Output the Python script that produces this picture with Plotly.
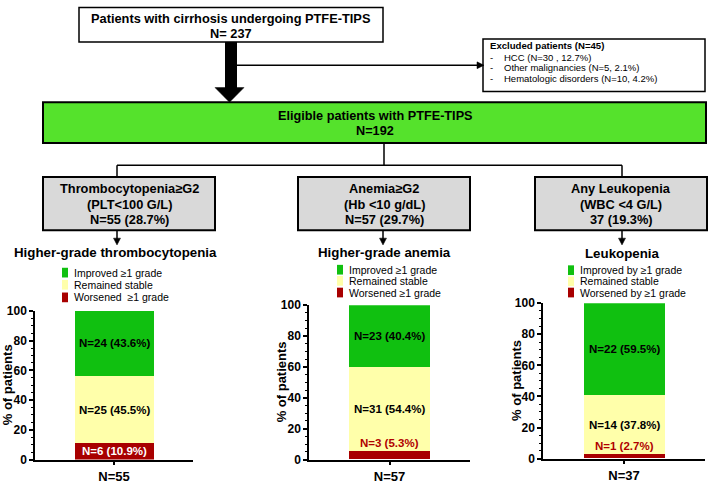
import plotly.graph_objects as go

# ---------------- data ----------------
categories = ["Higher-grade thrombocytopenia", "Higher-grade anemia", "Leukopenia"]
totals = [55, 57, 37]
improved_n = [24, 23, 22]
improved_pct = [43.6, 40.4, 59.5]
stable_n = [25, 31, 14]
stable_pct = [45.5, 54.4, 37.8]
worsened_n = [6, 3, 1]
worsened_pct = [10.9, 5.3, 2.7]
legend_labels = [
    ["Improved \u22651 grade", "Remained stable", "Worsened  \u22651 grade"],
    ["Improved \u22651 grade", "Remained stable", "Worsened \u22651 grade"],
    ["Improved by \u22651 grade", "Remained stable", "Worsened by \u22651 grade"],
]
group_boxes = [
    ["Thrombocytopenia\u2265G2", "(PLT<100 G/L)", "N=55 (28.7%)"],
    ["Anemia\u2265G2", "(Hb <10 g/dL)", "N=57 (29.7%)"],
    ["Any Leukopenia", "(WBC <4 G/L)", "37 (19.3%)"],
]
top_box = ["Patients with cirrhosis undergoing PTFE-TIPS", "N= 237"]
eligible_box = ["Eligible patients with PTFE-TIPS", "N=192"]
excluded_title = "Excluded patients (N=45)"
excluded_items = ["HCC (N=30 , 12.7%)", "Other malignancies (N=5, 2.1%)",
                  "Hematologic disorders (N=10, 4.2%)"]
y_ticks = [0, 20, 40, 60, 80, 100]

# ---------------- style ----------------
W, H = 708, 486
FONT = "Arial, Liberation Sans, sans-serif"
C_GREEN = "#10c010"
C_YELLOW = "#ffffaa"
C_RED = "#a80000"
C_BOX_GREEN = "#55e22c"
C_GREY = "#d9d9d9"


def X(p):
    return p / W


def Y(p):
    return 1 - p / H


shapes = []
annotations = []


def rect(x0, y0, x1, y1, fill="white", lw=1.5, lc="black"):
    shapes.append(dict(type="rect", xref="paper", yref="paper",
                       x0=X(x0), x1=X(x1), y0=Y(y1), y1=Y(y0),
                       fillcolor=fill, line=dict(color=lc, width=lw), layer="below"))


def line(x0, y0, x1, y1, lw=1.5):
    shapes.append(dict(type="line", xref="paper", yref="paper",
                       x0=X(x0), x1=X(x1), y0=Y(y0), y1=Y(y1),
                       line=dict(color="black", width=lw)))


def tri(pts):
    path = "M " + " L ".join(f"{X(a)} {Y(b)}" for a, b in pts) + " Z"
    shapes.append(dict(type="path", xref="paper", yref="paper", path=path,
                       fillcolor="black", line=dict(color="black", width=0.5)))


def text(x, y, s, size=12, bold=True, color="black", xanchor="center", angle=0):
    annotations.append(dict(xref="paper", yref="paper", x=X(x), y=Y(y),
                            text=s, showarrow=False, xanchor=xanchor, yanchor="middle",
                            textangle=angle,
                            font=dict(family=FONT, size=size, color=color,
                                      weight="bold" if bold else "normal")))


# top box
rect(79, 0.5, 383, 36)
text(231, 12, top_box[0], 12.8)
text(231, 27, top_box[1], 12.8)
# thick arrow
shapes.append(dict(type="rect", xref="paper", yref="paper", x0=X(225), x1=X(237),
                   y0=Y(84), y1=Y(36), fillcolor="black", line=dict(width=0)))
tri([(215, 83), (244, 83), (229.5, 98)])
# side arrow to excluded box
line(237, 60, 478, 60)
tri([(477, 56.5), (477, 63.5), (484, 60)])
# excluded box
rect(483, 33, 705, 87)
text(488, 40, excluded_title, 9.6, xanchor="left")
for i, item in enumerate(excluded_items):
    yy = 51.5 + i * 11.3
    text(488, yy, "-", 9.5, bold=False, xanchor="left")
    text(502, yy, item, 9.5, bold=False, xanchor="left")
# eligible box
rect(43, 98, 706, 140, fill=C_BOX_GREEN, lw=2)
text(375, 112, eligible_box[0], 12.7)
text(375, 128, eligible_box[1], 12.7)
# connectors
line(384, 140, 384, 163)
line(117, 163, 622, 163)
line(117, 163, 117, 175)
line(622, 163, 622, 175)

box_x = [(43, 215), (298, 470), (535, 707)]
arrow_x = [117, 383, 622]
title_x = [115, 384, 622]
title_y = [253, 253, 254]
for i in range(3):
    x0, x1 = box_x[i]
    rect(x0, 175, x1, 230, fill=C_GREY, lw=2)
    cx = (x0 + x1) / 2
    for j, s in enumerate(group_boxes[i]):
        text(cx, 187 + j * 16, s, 12.8)
    ax = arrow_x[i]
    line(ax, 230, ax, 239, lw=1.5)
    tri([(ax - 3.5, 238), (ax + 3.5, 238), (ax, 245)])
    text(title_x[i], title_y[i], categories[i], 13.3)

# legends
leg_sq_x = [62, 337, 568]
leg_rows = [[273.5, 286, 299], [270.5, 282, 294], [271, 282.5, 294]]
leg_cols = [C_GREEN, C_YELLOW, C_RED]
for i in range(3):
    for j in range(3):
        yy = leg_rows[i][j]
        shapes.append(dict(type="rect", xref="paper", yref="paper",
                           x0=X(leg_sq_x[i]), x1=X(leg_sq_x[i] + 6),
                           y0=Y(yy + 5), y1=Y(yy - 5),
                           fillcolor=leg_cols[j], line=dict(width=0)))
        text(leg_sq_x[i] + 9.5, yy, legend_labels[i][j], 10.5, bold=False, xanchor="left")

# ---------------- bar subplots ----------------
x_dom = [(35, 193), (309, 470), (543, 705)]
y_dom = [(466, 313), (466, 307), (465, 305)]
ytitle_x = [7, 281, 517]

fig = go.Figure()
layout_axes = {}
for i in range(3):
    xa = "x" if i == 0 else f"x{i + 1}"
    ya = "y" if i == 0 else f"y{i + 1}"
    for vals, col in [(worsened_pct, C_RED), (stable_pct, C_YELLOW), (improved_pct, C_GREEN)]:
        fig.add_trace(go.Bar(x=[0], y=[vals[i]], width=1, marker=dict(color=col, line=dict(width=0)),
                             xaxis=xa, yaxis=ya, showlegend=False, hoverinfo="skip"))
    key = "" if i == 0 else str(i + 1)
    layout_axes["xaxis" + key] = dict(
        domain=[X(x_dom[i][0]), X(x_dom[i][1])], range=[-1, 1], anchor=ya,
        showline=True, linecolor="black", linewidth=1.5, ticks="outside", ticklen=4,
        tickwidth=1.5, tickcolor="black", tickvals=[0], ticktext=[f"N={totals[i]}"],
        tickfont=dict(family=FONT, size=13, color="black", weight="bold"),
        showgrid=False, zeroline=False, fixedrange=True)
    layout_axes["yaxis" + key] = dict(
        domain=[Y(y_dom[i][0]), Y(y_dom[i][1])], range=[0, 100], anchor=xa,
        showline=True, linecolor="black", linewidth=1.5, ticks="outside", ticklen=4,
        tickwidth=1.5, tickcolor="black", tickvals=y_ticks,
        tickfont=dict(family=FONT, size=12, color="black", weight="bold"),
        minor=dict(ticks="outside", ticklen=2, tickwidth=1, tickcolor="black", dtick=5),
        showgrid=False, zeroline=False, fixedrange=True)
    # y-axis title
    text(ytitle_x[i], (y_dom[i][0] + y_dom[i][1]) / 2, "% of patients", 13, angle=-90)
    # bar labels
    w = worsened_pct[i]
    s = stable_pct[i]
    g = improved_pct[i]
    lab = dict(xref=xa, yref=ya, x=0, showarrow=False,
               font=dict(family=FONT, size=11.5, color="black", weight="bold"))
    annotations.append(dict(lab, y=w + s + g / 2, text=f"N={improved_n[i]} ({g}%)"))
    annotations.append(dict(lab, y=w + s / 2, text=f"N={stable_n[i]} ({s}%)"))
    if w >= 8:
        annotations.append(dict(lab, y=w / 2, text=f"N={worsened_n[i]} ({w}%)",
                                font=dict(family=FONT, size=11.5, color="white", weight="bold")))
    else:
        annotations.append(dict(lab, y=w, yanchor="bottom", yshift=0,
                                text=f"N={worsened_n[i]} ({w}%)",
                                font=dict(family=FONT, size=11.5, color="#b00000", weight="bold")))

fig.update_layout(
    width=W, height=H, margin=dict(l=0, r=0, t=0, b=0),
    paper_bgcolor="white", plot_bgcolor="white",
    barmode="stack", bargap=0,
    shapes=shapes, annotations=annotations,
    **layout_axes,
)
fig.write_html("out.html", config={"displayModeBar": False},
               post_script="document.body.style.margin='0';document.body.style.overflow='hidden';")
